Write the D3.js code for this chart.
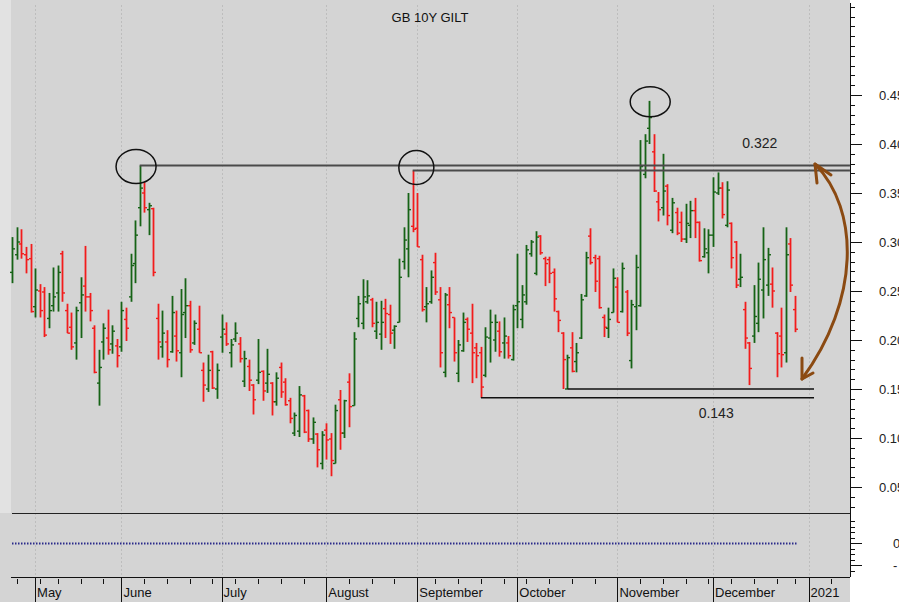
<!DOCTYPE html>
<html>
<head>
<meta charset="utf-8">
<script src="https://cdn.jsdelivr.net/npm/d3@7"></script>
<style>
  body { margin: 0; background: #fff; }
  svg { display: block; font-family: "Liberation Sans", Arial, sans-serif; }
</style>
</head>
<body>
<svg id="chart" width="899" height="602"></svg>
<script>
// daily OHLC, GB 10Y gilt yield, one entry per trading day from 24 Apr 2020
const opens = [
  .269,.287,.298,.287,.283,.234,.250,.249,.222,.235,.248,.288,.230,.213,.197,.238,.255,.244,.212,.156,
  .198,.202,.196,.194,.193,.221,.244,.278,.335,.350,.333,.334,.222,.193,.198,.188,.204,.187,.228,.235,
  .197,.211,.169,.150,.188,.150,.203,.206,.187,.201,.196,.158,.173,.154,.159,.168,.156,.156,.137,.172,
  .157,.138,.105,.107,.143,.128,.099,.104,.074,.108,.099,.074,.139,.105,.157,.133,.222,.217,.239,.241,
  .209,.206,.232,.226,.210,.218,.280,.293,.316,.314,.282,.234,.239,.279,.241,.167,.236,.223,.166,.189,
  .221,.207,.192,.187,.164,.202,.200,.209,.197,.197,.180,.235,.221,.239,.288,.268,.306,.283,.282,.269,
  .229,.207,.150,.192,.178,.202,.245,.306,.284,.283,.223,.212,.228,.254,.229,.249,.179,.234,.235,.369,
  .416,.392,.341,.335,.357,.312,.330,.320,.303,.317,.332,.320,.285,.289,.307,.350,.355,.317,.319,.300,
  .262,.231,.197,.204,.217,.251,.256,.257,.207,.204,.187,.298,.231
];
const highs = [
  .305,.315,.313,.295,.298,.273,.257,.254,.248,.274,.276,.291,.237,.228,.234,.264,.296,.248,.215,.190,
  .217,.231,.215,.201,.239,.233,.288,.322,.378,.361,.340,.335,.237,.230,.210,.245,.230,.252,.263,.240,
  .220,.235,.177,.185,.189,.176,.226,.218,.201,.218,.203,.189,.180,.155,.201,.169,.191,.157,.167,.177,
  .161,.141,.126,.153,.144,.129,.121,.105,.107,.115,.105,.134,.149,.139,.166,.208,.245,.262,.261,.243,
  .239,.240,.242,.236,.215,.283,.315,.350,.373,.350,.287,.254,.271,.289,.254,.248,.254,.223,.200,.228,
  .223,.237,.197,.193,.213,.231,.226,.219,.223,.204,.236,.288,.256,.297,.302,.311,.307,.285,.285,.273,
  .230,.208,.185,.208,.197,.247,.290,.314,.287,.286,.226,.233,.273,.264,.279,.251,.241,.287,.404,.410,
  .444,.410,.351,.390,.359,.345,.335,.331,.339,.342,.345,.321,.314,.313,.366,.371,.361,.362,.320,.301,
  .288,.239,.198,.256,.279,.315,.294,.274,.208,.233,.315,.304,.245
];
const lows = [
  .258,.282,.283,.268,.228,.223,.223,.203,.212,.229,.229,.239,.207,.190,.180,.202,.229,.219,.166,.133,
  .180,.185,.186,.172,.188,.199,.239,.258,.316,.330,.307,.265,.180,.182,.172,.187,.178,.162,.202,.187,
  .195,.187,.137,.147,.150,.140,.187,.194,.172,.198,.177,.152,.148,.124,.155,.138,.146,.123,.133,.141,
  .133,.115,.102,.101,.105,.096,.094,.070,.068,.078,.061,.074,.088,.100,.111,.133,.213,.211,.237,.213,
  .201,.190,.202,.196,.191,.218,.272,.264,.310,.295,.229,.218,.237,.246,.172,.162,.212,.178,.157,.188,
  .198,.156,.161,.141,.162,.177,.188,.183,.181,.181,.179,.212,.212,.236,.285,.266,.287,.255,.258,.229,
  .208,.150,.150,.167,.167,.201,.244,.277,.249,.232,.203,.202,.228,.218,.228,.204,.171,.210,.234,.365,
  .400,.351,.321,.327,.317,.309,.307,.300,.299,.304,.304,.280,.284,.268,.295,.348,.324,.315,.273,.253,
  .254,.191,.154,.197,.208,.222,.245,.233,.162,.172,.177,.249,.208
];
const closes = [
  .293,.300,.288,.282,.229,.251,.230,.205,.230,.244,.269,.248,.207,.193,.230,.246,.244,.230,.167,.172,
  .212,.190,.209,.184,.230,.212,.276,.307,.355,.335,.337,.269,.198,.207,.180,.228,.189,.226,.235,.190,
  .217,.187,.154,.169,.151,.169,.211,.196,.195,.207,.181,.181,.159,.139,.167,.148,.165,.137,.161,.147,
  .134,.120,.123,.144,.106,.099,.116,.088,.103,.098,.077,.128,.105,.138,.132,.201,.237,.244,.245,.217,
  .218,.218,.227,.207,.214,.264,.302,.333,.313,.295,.231,.237,.264,.249,.187,.246,.228,.187,.195,.218,
  .211,.187,.184,.152,.203,.218,.218,.188,.204,.184,.231,.239,.246,.292,.300,.305,.289,.278,.268,.242,
  .220,.180,.182,.168,.187,.241,.284,.279,.260,.233,.213,.221,.263,.218,.273,.207,.236,.274,.377,.403,
  .427,.352,.333,.352,.327,.340,.309,.303,.319,.332,.320,.281,.293,.307,.351,.355,.328,.353,.284,.256,
  .264,.202,.171,.224,.262,.282,.287,.250,.186,.185,.287,.256,.211
];
// non-trading days (UK bank holidays) inside the range
const holidays = ["2020-05-08", "2020-05-25", "2020-08-31", "2020-12-25", "2020-12-28", "2021-01-01"];
const startDate = "2020-04-24";
const axisDays = 185;
const yTicksMajor = [0.05, 0.10, 0.15, 0.20, 0.25, 0.30, 0.35, 0.40, 0.45];
const title = "GB 10Y GILT";
// resistance / support lines: from bar index to right edge index, at a yield
const resistance = [{i0: 28, i1: 184.1, v: 0.378}, {i0: 88, i1: 184.1, v: 0.373}];
const support = [{i0: 122, i1: 176.2, v: 0.150}, {i0: 103, i1: 176.2, v: 0.141}];
const circles = [{i: 27.2, v: 0.377, rx: 20, ry: 17}, {i: 88.8, v: 0.376, rx: 17.5, ry: 17}, {i: 140.2, v: 0.443, rx: 20, ry: 15}];
const notes = [{i: 164.3, v: 0.396, text: "0.322"}, {i: 154.7, v: 0.120, text: "0.143"}];

const svg = d3.select("#chart");
const W = 899, H = 602;
const plotLeft = 12, plotRight = 850, plotTop = 5, plotBottom = 577;
const paneSplit = 513;

// trading calendar
const parse = d3.timeParse("%Y-%m-%d");
const fmt = d3.timeFormat("%Y-%m-%d");
const hol = new Set(holidays);
const dates = [];
let day = parse(startDate);
while (dates.length < axisDays) {
  const wd = day.getDay();
  if (wd !== 0 && wd !== 6 && !hol.has(fmt(day))) dates.push(new Date(day));
  day = d3.timeDay.offset(day, 1);
}

const x = d3.scaleLinear().domain([0, 184]).range([12.3, 12.3 + 4.55 * 184]);
const y = d3.scaleLinear().domain([0, 0.45]).range([536, 95]);

// backgrounds
svg.append("rect").attr("width", W).attr("height", H).attr("fill", "#fff");
svg.append("rect").attr("x", 0).attr("y", 0).attr("width", plotRight).attr("height", H).attr("fill", "#d4d4d4");
svg.append("rect").attr("x", 0).attr("y", 0).attr("width", plotLeft - 1).attr("height", paneSplit).attr("fill", "#e2e2e2");

// month starts and week starts
const monthIdx = [], weekIdx = [];
dates.forEach((dt, i) => {
  if (i === 0) return;
  const prev = dates[i - 1];
  if (dt.getMonth() !== prev.getMonth()) monthIdx.push(i);
  else if (dt.getDay() <= prev.getDay()) weekIdx.push(i);
});
weekIdx.unshift(1);

// vertical dotted grid
svg.append("g").selectAll("line").data(monthIdx).join("line")
  .attr("x1", i => Math.round(x(i)) + 0.5).attr("x2", i => Math.round(x(i)) + 0.5)
  .attr("y1", plotTop).attr("y2", plotBottom)
  .attr("stroke", "#bdbdbd").attr("stroke-dasharray", "2,2");

// lower pane lines
svg.append("line").attr("x1", plotLeft).attr("x2", plotRight).attr("y1", paneSplit + 0.5).attr("y2", paneSplit + 0.5)
  .attr("stroke", "#222").attr("stroke-width", 1);
svg.append("line").attr("x1", plotLeft).attr("x2", x(closes.length - 1) + 2).attr("y1", 543.5).attr("y2", 543.5)
  .attr("stroke", "#2a2a8a").attr("stroke-width", 2).attr("stroke-dasharray", "1.5,1.5");

// title
svg.append("text").attr("x", 430).attr("y", 22).attr("text-anchor", "middle")
  .attr("font-size", 13).attr("fill", "#111").text(title);

// OHLC bars
const bars = svg.append("g");
closes.forEach((c, i) => {
  const col = c >= opens[i] ? "#166316" : "#f21c1c";
  const cx = Math.round(x(i)) + 0.5;
  const g = bars.append("g").attr("stroke", col);
  g.append("line").attr("x1", cx).attr("x2", cx).attr("y1", y(highs[i])).attr("y2", y(lows[i])).attr("stroke-width", 1.8);
  g.append("line").attr("x1", cx - 2.5).attr("x2", cx).attr("y1", y(opens[i])).attr("y2", y(opens[i])).attr("stroke-width", 1.4);
  g.append("line").attr("x1", cx).attr("x2", cx + 2.5).attr("y1", y(c)).attr("y2", y(c)).attr("stroke-width", 1.4);
});

// resistance lines
svg.append("g").selectAll("line").data(resistance).join("line")
  .attr("x1", r => x(r.i0)).attr("x2", r => x(r.i1))
  .attr("y1", r => y(r.v)).attr("y2", r => y(r.v))
  .attr("stroke", "#4a4a4a").attr("stroke-width", 2);
// support lines
svg.append("g").selectAll("line").data(support).join("line")
  .attr("x1", r => x(r.i0)).attr("x2", r => x(r.i1))
  .attr("y1", r => y(r.v)).attr("y2", r => y(r.v))
  .attr("stroke", "#111").attr("stroke-width", 1.5);

// circles round the tops
svg.append("g").selectAll("ellipse").data(circles).join("ellipse")
  .attr("cx", c => x(c.i)).attr("cy", c => y(c.v)).attr("rx", c => c.rx).attr("ry", c => c.ry)
  .attr("fill", "none").attr("stroke", "#111").attr("stroke-width", 1.5);

// value notes
svg.append("g").selectAll("text").data(notes).join("text")
  .attr("x", n => x(n.i)).attr("y", n => y(n.v)).attr("text-anchor", "middle")
  .attr("font-size", 14).attr("fill", "#222").text(n => n.text);

// brown double-headed arrow
const brown = "#8b4a12";
const arrow = svg.append("g").attr("fill", "none").attr("stroke", brown).attr("stroke-width", 3)
  .attr("stroke-linecap", "round").attr("stroke-linejoin", "round");
arrow.append("path").attr("d", "M815,164 C860,210 860,300 802,379");
arrow.append("path").attr("d", "M831,175 L815,164 L817,183");
arrow.append("path").attr("d", "M802,358 L802,379 L813,373");

// right axis
const ax = svg.append("g");
ax.append("line").attr("x1", plotRight + 0.5).attr("x2", plotRight + 0.5).attr("y1", 3).attr("y2", plotBottom)
  .attr("stroke", "#111");
const minor = d3.range(3, 55).map(k => k / 100);
ax.append("g").selectAll("line").data(minor).join("line")
  .attr("x1", plotRight).attr("x2", plotRight + 5)
  .attr("y1", v => Math.round(y(v)) + 0.5).attr("y2", v => Math.round(y(v)) + 0.5)
  .attr("stroke", "#111");
ax.append("g").selectAll("line").data(yTicksMajor).join("line")
  .attr("x1", plotRight).attr("x2", plotRight + 12)
  .attr("y1", v => Math.round(y(v)) + 0.5).attr("y2", v => Math.round(y(v)) + 0.5)
  .attr("stroke", "#111");
ax.append("g").selectAll("text").data(yTicksMajor).join("text")
  .attr("x", 879).attr("y", v => y(v) + 5)
  .attr("font-size", 13).attr("fill", "#222").text(v => d3.format(".2f")(v));
// lower pane scale
const lowerMinor = [521, 526.5, 532, 537.5, 548.5, 554, 559.5, 570.5];
const lowerMajor = [543, 565];
ax.append("g").selectAll("line").data(lowerMinor).join("line")
  .attr("x1", plotRight).attr("x2", plotRight + 5).attr("y1", v => Math.round(v) + 0.5).attr("y2", v => Math.round(v) + 0.5)
  .attr("stroke", "#111");
ax.append("g").selectAll("line").data(lowerMajor).join("line")
  .attr("x1", plotRight).attr("x2", plotRight + 12).attr("y1", v => v + 0.5).attr("y2", v => v + 0.5)
  .attr("stroke", "#111");
ax.append("text").attr("x", 893).attr("y", 548).attr("font-size", 13).attr("fill", "#222").text("0");
ax.append("text").attr("x", 893).attr("y", 570).attr("font-size", 13).attr("fill", "#222").text("-");

// bottom axis
const bx = svg.append("g");
bx.append("line").attr("x1", plotLeft - 1).attr("x2", plotRight).attr("y1", plotBottom + 0.5).attr("y2", plotBottom + 0.5)
  .attr("stroke", "#111");
bx.append("g").selectAll("line").data(weekIdx).join("line")
  .attr("x1", i => Math.round(x(i)) + 0.5).attr("x2", i => Math.round(x(i)) + 0.5)
  .attr("y1", plotBottom + 2).attr("y2", plotBottom + 7).attr("stroke", "#111");
bx.append("g").selectAll("line").data(monthIdx).join("line")
  .attr("x1", i => Math.round(x(i)) + 0.5).attr("x2", i => Math.round(x(i)) + 0.5)
  .attr("y1", plotBottom).attr("y2", H).attr("stroke", "#111");
const monthName = d3.timeFormat("%B");
bx.append("g").selectAll("text").data(monthIdx).join("text")
  .attr("x", i => x(i) + 2).attr("y", 597)
  .attr("font-size", 13).attr("fill", "#111")
  .text(i => dates[i].getMonth() === 0 ? dates[i].getFullYear() : monthName(dates[i]));
</script>
</body>
</html>
